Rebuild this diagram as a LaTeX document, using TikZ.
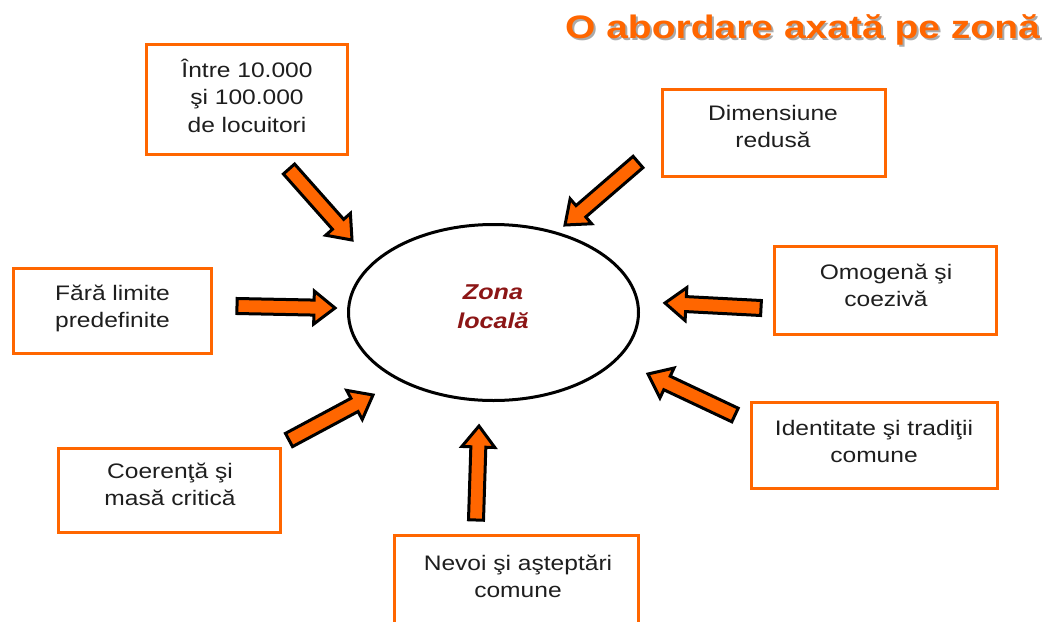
\documentclass[tikz,border=0pt]{standalone}
\usepackage{fontspec}
\setmainfont{Liberation Sans}[FakeStretch=1.17]
\newfontfamily\titlefont{Liberation Sans}[FakeStretch=1.2]
\usetikzlibrary{shapes.geometric,calc}
\definecolor{orng}{RGB}{255,102,0}
\definecolor{txt}{RGB}{30,30,30}
\definecolor{zred}{RGB}{140,22,22}
\definecolor{shadowgray}{RGB}{170,170,170}
\newcommand\lns[1]{\begin{tabular}[t]{@{}c@{}}#1\end{tabular}}
\newcommand\blockarrow[2]{%
  \coordinate (#1n) at ($(#2)!21pt!(#1)$);
  \draw[barrow] ($(#1)!7.5pt!90:(#2)$) -- ($(#1n)!7.5pt!90:(#2)$) -- ($(#1n)!16.5pt!90:(#2)$)
    -- (#2) -- ($(#1n)!16.5pt!-90:(#2)$) -- ($(#1n)!7.5pt!-90:(#2)$) -- ($(#1)!7.5pt!-90:(#2)$) -- cycle;}
\begin{document}
\begin{tikzpicture}[x=1pt,y=-1pt,
  box/.style={draw=orng, line width=3pt, fill=none, inner sep=0pt},
  btext/.style={anchor=base, inner sep=0pt, text=txt, font=\fontsize{21}{27.5}\selectfont},
  barrow/.style={fill=orng, draw=black, line width=3pt, line join=miter},
  zone/.style={draw=black, line width=3pt, ellipse, inner sep=0pt, minimum width=290pt, minimum height=176pt}]
\useasboundingbox (0,0) rectangle (1049,621);
\fill[white] (0,0) rectangle (1049,621);
% title
\node[anchor=base east, inner sep=0pt, text=shadowgray, font=\titlefont\bfseries\fontsize{32.5}{36}\selectfont] (titleshadow) at (1042,40) {O abordare axată pe zonă};
\node[anchor=base east, inner sep=0pt, text=orng, font=\titlefont\bfseries\fontsize{32.5}{36}\selectfont] (title) at (1040,38) {O abordare axată pe zonă};
% ellipse
\node[zone] (zona) at (493.5,312.5) {};
\node[anchor=base, inner sep=0pt, text=zred, font=\bfseries\itshape\fontsize{21.5}{29}\selectfont] (zonatext) at (493,299) {\lns{Zona\\locală}};
% boxes
\node[box, minimum width=201pt, minimum height=110pt] (b1) at (247,99.5) {};
\node[box, minimum width=223pt, minimum height=87pt] (b2) at (774,133) {};
\node[box, minimum width=222pt, minimum height=88pt] (b3) at (885.5,290.5) {};
\node[box, minimum width=246pt, minimum height=86pt] (b4) at (874.5,445.5) {};
\node[box, minimum width=198pt, minimum height=85pt] (b5) at (112.5,311) {};
\node[box, minimum width=222pt, minimum height=84pt] (b6) at (169.5,490.5) {};
\node[box, minimum width=244pt, minimum height=95pt] (b7) at (516.5,583) {};
% texts
\node[btext] (t1) at (247,77) {\lns{Între 10.000\\şi 100.000\\de locuitori}};
\node[btext] (t2) at (773,120) {\lns{Dimensiune\\redusă}};
\node[btext] (t3) at (886,279) {\lns{Omogenă şi\\coezivă}};
\node[btext] (t4) at (874,435) {\lns{Identitate şi tradiţii\\comune}};
\node[btext] (t5) at (112.5,300) {\lns{Fără limite\\predefinite}};
\node[btext] (t6) at (170,478) {\lns{Coerenţă şi\\masă critică}};
\node[btext] (t7) at (518,570) {\lns{Nevoi şi aşteptări\\comune}};
% arrows
\coordinate (aT) at (289,169); \coordinate (aH) at (352,240);
\coordinate (bT) at (638,162); \coordinate (bH) at (565,225);
\coordinate (cT) at (237,306); \coordinate (cH) at (335,308);
\coordinate (dT) at (289,440); \coordinate (dH) at (373,395);
\coordinate (eT) at (476,520); \coordinate (eH) at (479,426);
\coordinate (fT) at (761,308); \coordinate (fH) at (665,303);
\coordinate (gT) at (735,415); \coordinate (gH) at (648,374);
\blockarrow{aT}{aH}
\blockarrow{bT}{bH}
\blockarrow{cT}{cH}
\blockarrow{dT}{dH}
\blockarrow{eT}{eH}
\blockarrow{fT}{fH}
\blockarrow{gT}{gH}
\end{tikzpicture}
\end{document}
